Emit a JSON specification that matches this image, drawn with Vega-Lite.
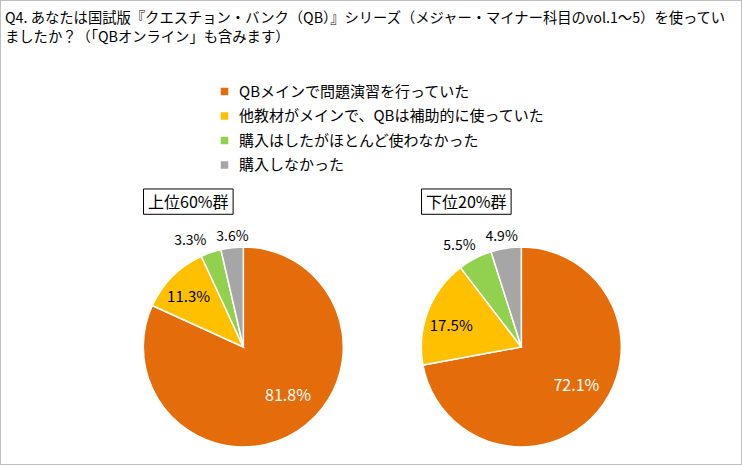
{
  "$schema": "https://vega.github.io/schema/vega-lite/v6.json",
  "width": 742,
  "height": 465,
  "autosize": {"type": "fit", "contains": "padding"},
  "padding": 0,
  "background": "white",
  "config": {
    "view": {"stroke": "#BFBFBF", "strokeWidth": 2},
    "font": "Noto Sans CJK JP"
  },
  "title": {
    "text": [
      "Q4. あなたは国試版『クエスチョン・バンク（QB）』シリーズ（メジャー・マイナー科目のvol.1～5）を使ってい",
      "ましたか？（「QBオンライン」も含みます）"
    ],
    "anchor": "start",
    "frame": "group",
    "orient": "top",
    "baseline": "top",
    "offset": -45.5,
    "dx": 5,
    "fontSize": 14.3,
    "fontWeight": "normal",
    "color": "#000000",
    "lineHeight": 19,
    "font": "Noto Sans CJK JP"
  },
  "data": {
    "values": [
      {"group": "上位60%群", "cat": "QBメインで問題演習を行っていた", "k": 1, "v": 0.818},
      {"group": "上位60%群", "cat": "他教材がメインで、QBは補助的に使っていた", "k": 2, "v": 0.113},
      {"group": "上位60%群", "cat": "購入はしたがほとんど使わなかった", "k": 3, "v": 0.033},
      {"group": "上位60%群", "cat": "購入しなかった", "k": 4, "v": 0.036},
      {"group": "下位20%群", "cat": "QBメインで問題演習を行っていた", "k": 1, "v": 0.721},
      {"group": "下位20%群", "cat": "他教材がメインで、QBは補助的に使っていた", "k": 2, "v": 0.175},
      {"group": "下位20%群", "cat": "購入はしたがほとんど使わなかった", "k": 3, "v": 0.055},
      {"group": "下位20%群", "cat": "購入しなかった", "k": 4, "v": 0.049}
    ]
  },
  "encoding": {
    "x": {
      "field": "group",
      "type": "nominal",
      "scale": {"type": "point", "domain": ["上位60%群", "下位20%群"], "padding": 0.8345, "align": 0.5244},
      "axis": null
    },
    "y": {
      "datum": "pie",
      "type": "nominal",
      "scale": {"type": "point", "padding": 0.5, "align": 0.7462},
      "axis": null
    }
  },
  "layer": [
    {
      "transform": [{"filter": "datum.group == '上位60%群'"}],
      "layer": [
        {
          "mark": {"type": "arc", "outerRadius": 100, "stroke": "white", "strokeWidth": 1.5},
          "encoding": {
            "theta": {"field": "v", "type": "quantitative", "stack": true, "scale": {"domain": [0, 1]}},
            "order": {"field": "k", "type": "quantitative"},
            "color": {
              "field": "cat",
              "type": "nominal",
              "scale": {
                "domain": ["QBメインで問題演習を行っていた", "他教材がメインで、QBは補助的に使っていた", "購入はしたがほとんど使わなかった", "購入しなかった"],
                "range": ["#E46C0A", "#FFC000", "#92D050", "#A6A6A6"]
              },
              "legend": {
                "orient": "none",
                "legendX": 217,
                "legendY": 84,
                "title": null,
                "symbolType": "square",
                "symbolSize": 56,
                "symbolStrokeWidth": 0,
                "labelOffset": 7,
                "labelFontSize": 15,
                "labelColor": "#000000",
                "labelFont": "Noto Sans CJK JP",
                "labelLimit": 400,
                "rowPadding": 8.5
              }
            }
          }
        },
        {
          "mark": {"type": "text", "radius": 66.5, "thetaOffset": -0.164, "fontSize": 16, "color": "#FFFFFF"},
          "encoding": {
            "theta": {"field": "v", "type": "quantitative", "stack": true},
            "order": {"field": "k", "type": "quantitative"},
            "detail": {"field": "cat"},
            "text": {"condition": {"test": "datum.k == 1", "field": "v", "type": "quantitative", "format": ".1%"}, "value": ""}
          }
        },
        {
          "mark": {"type": "text", "radius": 74, "thetaOffset": -0.044, "fontSize": 15, "color": "#000000"},
          "encoding": {
            "theta": {"field": "v", "type": "quantitative", "stack": true},
            "order": {"field": "k", "type": "quantitative"},
            "detail": {"field": "cat"},
            "text": {"condition": {"test": "datum.k == 2", "field": "v", "type": "quantitative", "format": ".1%"}, "value": ""}
          }
        },
        {
          "mark": {"type": "text", "radius": 118.5, "thetaOffset": -0.134, "fontSize": 14, "color": "#000000"},
          "encoding": {
            "theta": {"field": "v", "type": "quantitative", "stack": true},
            "order": {"field": "k", "type": "quantitative"},
            "detail": {"field": "cat"},
            "text": {"condition": {"test": "datum.k == 3", "field": "v", "type": "quantitative", "format": ".1%"}, "value": ""}
          }
        },
        {
          "mark": {"type": "text", "radius": 110.5, "thetaOffset": 0.014, "fontSize": 14, "color": "#000000"},
          "encoding": {
            "theta": {"field": "v", "type": "quantitative", "stack": true},
            "order": {"field": "k", "type": "quantitative"},
            "detail": {"field": "cat"},
            "text": {"condition": {"test": "datum.k == 4", "field": "v", "type": "quantitative", "format": ".1%"}, "value": ""}
          }
        },
        {
          "transform": [{"filter": "datum.k == 1"}],
          "mark": {"type": "point", "shape": "M-99.8,-158H-10.2V-132.7H-99.8Z", "size": 4, "filled": false, "color": "#000000", "strokeWidth": 1, "opacity": 1}
        },
        {
          "transform": [{"filter": "datum.k == 1"}],
          "mark": {"type": "text", "dx": -55, "dy": -144.3, "fontSize": 16, "color": "#000000"},
          "encoding": {"text": {"field": "group"}}
        }
      ]
    },
    {
      "transform": [{"filter": "datum.group == '下位20%群'"}],
      "layer": [
        {
          "mark": {"type": "arc", "outerRadius": 100, "stroke": "white", "strokeWidth": 1.5},
          "encoding": {
            "theta": {"field": "v", "type": "quantitative", "stack": true},
            "order": {"field": "k", "type": "quantitative"},
            "color": {"field": "cat", "type": "nominal"}
          }
        },
        {
          "mark": {"type": "text", "radius": 67.7, "thetaOffset": -0.073, "fontSize": 16, "color": "#FFFFFF"},
          "encoding": {
            "theta": {"field": "v", "type": "quantitative", "stack": true},
            "order": {"field": "k", "type": "quantitative"},
            "detail": {"field": "cat"},
            "text": {"condition": {"test": "datum.k == 1", "field": "v", "type": "quantitative", "format": ".1%"}, "value": ""}
          }
        },
        {
          "mark": {"type": "text", "radius": 73.2, "thetaOffset": -0.073, "fontSize": 15, "color": "#000000"},
          "encoding": {
            "theta": {"field": "v", "type": "quantitative", "stack": true},
            "order": {"field": "k", "type": "quantitative"},
            "detail": {"field": "cat"},
            "text": {"condition": {"test": "datum.k == 2", "field": "v", "type": "quantitative", "format": ".1%"}, "value": ""}
          }
        },
        {
          "mark": {"type": "text", "radius": 118.6, "thetaOffset": -0.068, "fontSize": 14, "color": "#000000"},
          "encoding": {
            "theta": {"field": "v", "type": "quantitative", "stack": true},
            "order": {"field": "k", "type": "quantitative"},
            "detail": {"field": "cat"},
            "text": {"condition": {"test": "datum.k == 3", "field": "v", "type": "quantitative", "format": ".1%"}, "value": ""}
          }
        },
        {
          "mark": {"type": "text", "radius": 112, "thetaOffset": -0.023, "fontSize": 14, "color": "#000000"},
          "encoding": {
            "theta": {"field": "v", "type": "quantitative", "stack": true},
            "order": {"field": "k", "type": "quantitative"},
            "detail": {"field": "cat"},
            "text": {"condition": {"test": "datum.k == 4", "field": "v", "type": "quantitative", "format": ".1%"}, "value": ""}
          }
        },
        {
          "transform": [{"filter": "datum.k == 1"}],
          "mark": {"type": "point", "shape": "M-99.8,-158H-10.2V-132.7H-99.8Z", "size": 4, "filled": false, "color": "#000000", "strokeWidth": 1, "opacity": 1}
        },
        {
          "transform": [{"filter": "datum.k == 1"}],
          "mark": {"type": "text", "dx": -55, "dy": -144.3, "fontSize": 16, "color": "#000000"},
          "encoding": {"text": {"field": "group"}}
        }
      ]
    }
  ]
}
